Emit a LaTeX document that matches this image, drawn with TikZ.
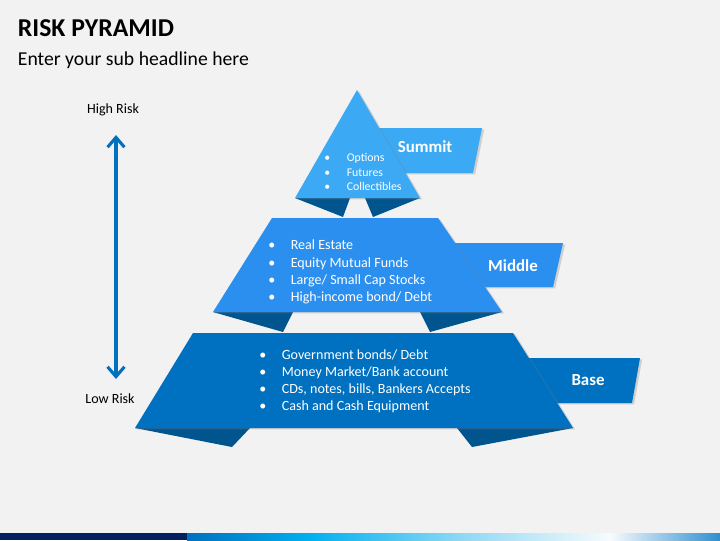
\documentclass[tikz,border=0pt]{standalone}
\usepackage{fontspec}
\setmainfont{Carlito}
\usepackage{tikz}
\usetikzlibrary{positioning}
\usetikzlibrary{shadows}
\usetikzlibrary{arrows.meta}

\definecolor{fondo}{HTML}{F2F2F2}
\definecolor{azulcumbre}{HTML}{3CA9F5}
\definecolor{azulmedio}{HTML}{2B8FF0}
\definecolor{azulbase}{HTML}{0070C0}
\definecolor{pliegue}{HTML}{00558F}
\definecolor{marino}{HTML}{002060}
\definecolor{cian}{HTML}{00B0F0}
\definecolor{celeste}{HTML}{8ED8F4}
\definecolor{blanco}{HTML}{F7FBFD}
\definecolor{azulfin}{HTML}{2E8ED0}

\newcommand{\vineta}{\makebox[16pt][l]{\textbullet}}

\begin{document}
\begin{tikzpicture}[x=0.025cm, y=-0.025cm,
    sombra/.style={drop shadow={opacity=0.3, shadow xshift=1.5pt, shadow yshift=-1pt}},
    lista/.style={anchor=west, align=left, text=white, inner sep=0pt},
    etiqueta/.style={text=white, font=\fontsize{12}{14}\selectfont\bfseries},
    riesgo/.style={font=\fontsize{10}{12}\selectfont}]
    % Fondo
    \useasboundingbox (0,0) rectangle (720,540);
    \fill[fondo] (0,0) rectangle (720,540);
    \fill[marino] (0,533) rectangle (187,540);
    \shade[left color=azulbase, right color=cian] (187,533) rectangle (310,540);
    \shade[left color=cian, right color=celeste] (310,533) rectangle (460,540);
    \shade[left color=celeste, right color=blanco] (460,533) rectangle (610,540);
    \shade[left color=blanco, right color=azulfin] (610,533) rectangle (720,540);

    % Titulos
    \node[anchor=west, font=\fontsize{18.3}{21}\selectfont\bfseries] (titulo) at (13,28) {RISK PYRAMID};
    \node[anchor=west, font=\fontsize{14}{16}\selectfont] (subtitulo) at (13,60) {Enter your sub headline here};

    % Eje de riesgo
    \node[riesgo] (alto) at (113,110) {High Risk};
    \node[riesgo] (bajo) at (110,399) {Low Risk};
    \coordinate (ini) at (116,135);
    \coordinate (fin) at (116,379);
    \draw[azulbase, line width=2.2pt, {Straight Barb[length=7pt,width=12pt]}-{Straight Barb[length=7pt,width=12pt]}] (ini) -- (fin);

    % Pestanas
    \fill[azulcumbre, sombra] (370,128) -- (482,128) -- (473,173) -- (370,173) -- cycle;
    \fill[azulmedio, sombra] (445,243) -- (563,243) -- (553,287) -- (445,287) -- cycle;
    \fill[azulbase, sombra] (525,358) -- (640,358) -- (632,403) -- (525,403) -- cycle;

    % Pliegues
    \fill[pliegue] (295,198) -- (343,217) -- (350,198) -- cycle;
    \fill[pliegue] (365,198) -- (373,217) -- (420,198) -- cycle;
    \fill[pliegue] (213,312) -- (283,332) -- (293,312) -- cycle;
    \fill[pliegue] (420,312) -- (430,332) -- (502,312) -- cycle;
    \fill[pliegue] (135,428) -- (232,447) -- (250,428) -- cycle;
    \fill[pliegue] (457,428) -- (472,447) -- (573,428) -- cycle;

    % Niveles
    \fill[azulcumbre, sombra] (357,90) -- (420,198) -- (295,198) -- cycle;
    \fill[azulmedio, sombra] (272,218) -- (438,218) -- (502,312) -- (213,312) -- cycle;
    \fill[azulbase, sombra] (193,333) -- (513,333) -- (573,428) -- (135,428) -- cycle;

    % Textos
    \node[lista, font=\fontsize{8.4}{10.3}\selectfont] (lcumbre) at (324,172)
        {\vineta Options\\ \vineta Futures\\ \vineta Collectibles};
    \node[lista, font=\fontsize{10}{12.2}\selectfont] (lmedio) at (268,272)
        {\vineta Real Estate\\ \vineta Equity Mutual Funds\\ \vineta Large/ Small Cap Stocks\\ \vineta High-income bond/ Debt};
    \node[lista, font=\fontsize{10}{12.2}\selectfont] (lbase) at (259,381)
        {\vineta Government bonds/ Debt\\ \vineta Money Market/Bank account\\ \vineta CDs, notes, bills, Bankers Accepts\\ \vineta Cash and Cash Equipment};
    \node[etiqueta] (summit) at (425,147) {Summit};
    \node[etiqueta] (middle) at (513,266) {Middle};
    \node[etiqueta] (base) at (588,380) {Base};
\end{tikzpicture}
\end{document}
